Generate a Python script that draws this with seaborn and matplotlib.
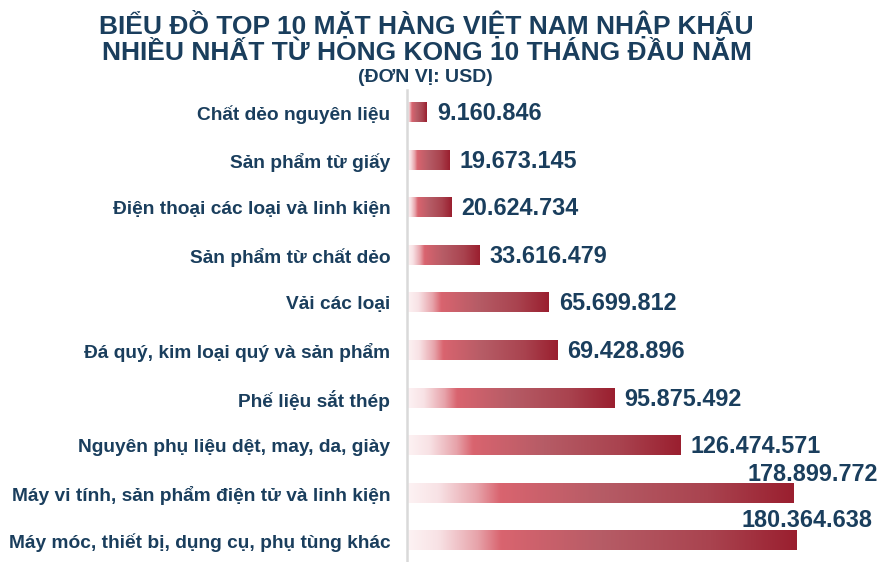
import numpy as np
import pandas as pd
import seaborn as sns
import matplotlib.pyplot as plt
from matplotlib.colors import LinearSegmentedColormap

# Data
categories = [
    "Chất dẻo nguyên liệu",
    "Sản phẩm từ giấy",
    "Điện thoại các loại và linh kiện",
    "Sản phẩm từ chất dẻo",
    "Vải các loại",
    "Đá quý, kim loại quý và sản phẩm",
    "Phế liệu sắt thép",
    "Nguyên phụ liệu dệt, may, da, giày",
    "Máy vi tính, sản phẩm điện tử và linh kiện",
    "Máy móc, thiết bị, dụng cụ, phụ tùng khác",
]
values = [9160846, 19673145, 20624734, 33616479, 65699812,
          69428896, 95875492, 126474571, 178899772, 180364638]

df = pd.DataFrame({"item": categories, "value": values})

navy = "#1a3e5d"

sns.set_style("white")
plt.rcParams['font.family'] = ['Liberation Sans', 'DejaVu Sans']

fig = plt.figure(figsize=(8.78, 5.62), dpi=100)
ax = fig.add_axes([407 / 878, 0, 471 / 878, 472 / 562])

sns.barplot(data=df, x="value", y="item", orient="h", width=0.4,
            color="#9a1f2f", ax=ax)

# gradient fill for each bar: white -> pink -> dark red
grad_cmap = LinearSegmentedColormap.from_list("bar_grad", [
    (0.0, "#fdf3f4"), (0.08, "#f8e2e5"), (0.18, "#e7a3aa"),
    (0.24, "#d9646f"), (0.5, "#b65c66"), (0.78, "#a9434f"), (1.0, "#9a1f2f")])
gradient = np.linspace(0, 1, 256).reshape(1, -1)
for p in list(ax.patches):
    x0, y0, w, h = p.get_x(), p.get_y(), p.get_width(), p.get_height()
    p.set_facecolor("none")
    p.set_edgecolor("none")
    ax.imshow(gradient, extent=[x0, x0 + w, y0 + h, y0], aspect="auto",
              cmap=grad_cmap, zorder=2, interpolation="bicubic")

ax.set_xlim(0, 218e6)
ax.set_ylim(9.45, -0.48)

# value labels
for i, v in enumerate(values):
    txt = f"{v:,}".replace(",", ".")
    if i == 8:
        ax.annotate(txt, (v, i), xytext=(19, 19), textcoords="offset pixels",
                    ha="center", va="center", fontsize=16.8, fontweight="bold", color=navy)
    elif i == 9:
        ax.annotate(txt, (v, i), xytext=(10, 20), textcoords="offset pixels",
                    ha="center", va="center", fontsize=16.8, fontweight="bold", color=navy)
    else:
        ax.annotate(txt, (v, i), xytext=(10, -1), textcoords="offset pixels",
                    ha="left", va="center", fontsize=16.8, fontweight="bold", color=navy)

ax.set_xlabel("")
ax.set_ylabel("")
ax.set_xticks([])
ax.tick_params(axis="y", length=0, pad=12)
for lab in ax.get_yticklabels():
    lab.set_fontsize(13.8)
    lab.set_fontweight("bold")
    lab.set_color(navy)

for s in ["top", "right", "bottom"]:
    ax.spines[s].set_visible(False)
ax.spines["left"].set_color("#d9d9d9")
ax.spines["left"].set_linewidth(1.8)

fig.text(0.486, 1 - 24 / 562, "BIỂU ĐỒ TOP 10 MẶT HÀNG VIỆT NAM NHẬP KHẨU",
         ha="center", va="center", fontsize=19, fontweight="bold", color=navy)
fig.text(0.486, 1 - 53 / 562, "NHIỀU NHẤT TỪ HONG KONG 10 THÁNG ĐẦU NĂM",
         ha="center", va="center", fontsize=19, fontweight="bold", color=navy)
fig.text(0.485, 1 - 78 / 562, "(ĐƠN VỊ: USD)",
         ha="center", va="center", fontsize=14, fontweight="bold", color=navy)

fig.savefig("out.png", dpi=100)
